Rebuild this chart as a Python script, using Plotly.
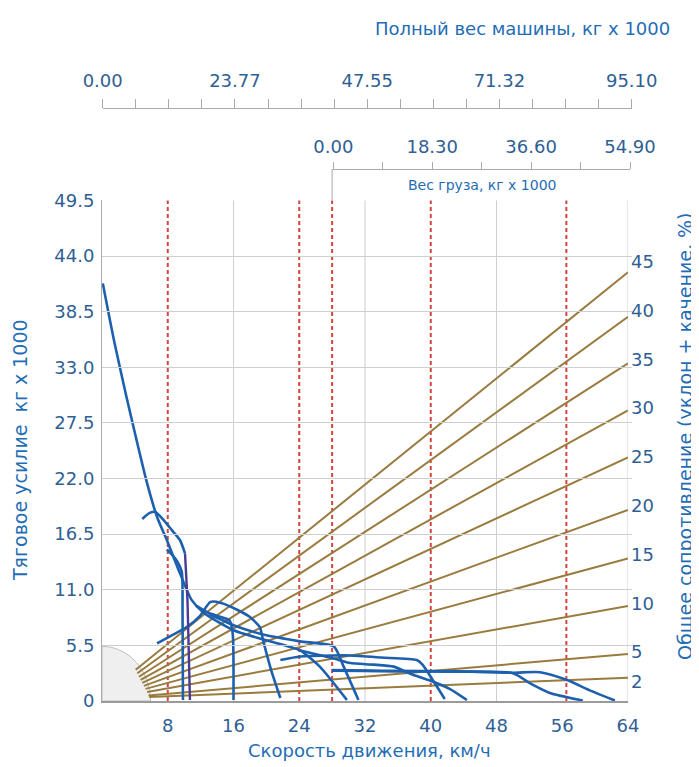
import plotly.graph_objects as go

# ---------------- data ----------------
speed_ticks = [8, 16, 24, 32, 40, 48, 56, 64]
force_ticks = [0, 5.5, 11.0, 16.5, 22.0, 27.5, 33.0, 38.5, 44.0, 49.5]
force_labels = ["0", "5.5", "11.0", "16.5", "22.0", "27.5", "33.0", "38.5", "44.0", "49.5"]
resist_ticks = [2, 5, 10, 15, 20, 25, 30, 35, 40, 45]
total_weight_ticks = [0, 5.94, 11.89, 17.83, 23.77, 29.72, 35.66, 41.61, 47.55,
                      53.49, 59.44, 65.38, 71.32, 77.27, 83.21, 89.16, 95.10]
total_weight_labels = ["0.00", "", "", "", "23.77", "", "", "", "47.55",
                       "", "", "", "71.32", "", "", "", "95.10"]
cargo_ticks = [0, 9.15, 18.30, 27.45, 36.60, 45.75, 54.90]
cargo_labels = ["0.00", "", "18.30", "", "36.60", "", "54.90"]
grid_speeds = [16, 32, 48, 64]
gear_limits = [8, 24, 28, 40, 56.5]

# resistance fan lines (start on arc, end at 64 km/h), in traction units
resist_start_x = [4.1, 4.3, 4.5, 4.7, 4.9, 5.1, 5.3, 5.5, 5.65, 5.75]
resist_start_y = [3.1, 2.75, 2.4, 2.1, 1.8, 1.5, 1.2, 0.9, 0.55, 0.4]
resist_end_y = [42.4, 38.0, 33.4, 28.75, 24.1, 18.9, 14.1, 9.4, 4.65, 2.3]

# rimpull curves
conv_x = [0.1, 1.5, 3.0, 4.5, 5.4, 6.7, 7.9, 9.5, 10.9, 12.4, 16.0, 20.0, 24.1, 26.5, 29.8]
conv_y = [41.3, 35.5, 30.0, 24.8, 21.8, 18.2, 15.9, 12.6, 10.0, 8.7, 7.0, 6.0, 5.0, 3.4, 0.1]
g1a_x = [7.9, 9.0, 9.7, 9.8, 9.85]
g1a_y = [15.0, 14.0, 12.8, 9.0, 0.1]
g1b_x = [4.9, 5.8, 6.5, 7.5, 8.5, 9.5, 10.1]
g1b_y = [18.0, 18.6, 18.7, 17.9, 16.9, 15.9, 14.6]
g1b_tail_x = [10.1, 10.4, 10.7]
g1b_tail_y = [14.6, 10.0, 0.1]
g2_x = [6.7, 8.5, 10.3, 11.9, 13.2, 14.5, 16.5, 18.0, 19.2, 19.6, 20.6, 21.7]
g2_y = [5.7, 6.5, 7.3, 8.4, 9.8, 9.7, 9.0, 8.3, 7.3, 6.0, 3.0, 0.3]
g3_x = [11.5, 13.0, 14.5, 15.5, 15.9, 16.0]
g3_y = [9.4, 8.7, 8.3, 8.0, 6.7, 0.1]
g4_x = [13.0, 16.0, 20.0, 24.1, 28.2, 29.4, 31.2]
g4_y = [8.6, 7.5, 6.5, 5.9, 5.4, 3.4, 0.1]
g5a_x = [21.7, 24.1, 28.2, 30.2, 34.0, 38.3, 39.0, 40.3, 41.7]
g5a_y = [4.05, 4.4, 4.5, 4.5, 4.3, 4.05, 3.6, 2.0, 0.2]
g5b_x = [24.1, 28.2, 30.2, 33.0, 35.5, 37.5, 40.3, 42.3, 44.4]
g5b_y = [5.0, 4.2, 3.75, 3.6, 3.4, 2.7, 1.9, 1.2, 0.1]
g6a_x = [28.0, 32.0, 36.0, 42.3, 50.0, 52.1, 54.5, 58.5]
g6a_y = [3.05, 3.0, 2.95, 2.9, 2.75, 1.75, 0.8, 0.05]
g6b_x = [28.0, 36.0, 42.3, 50.0, 53.3, 56.5, 59.5, 62.4]
g6b_y = [3.0, 2.95, 2.95, 2.8, 2.85, 2.1, 1.0, 0.05]

# ---------------- style ----------------
FONT = "DejaVu Sans"
TICK_C = "#2f5f94"
TITLE_C = "#1f6db5"
BLUE = "#1d60ae"
BROWN = "#9a7b3e"
GRID = "#cfcfcf"
OFF = 8  # page body margin
W, H = 699 - OFF, 767 - OFF
# target screen pixels of the plot box
SX0, SX1, SY0, SY1 = 102, 632, 10, 701
ML = SX0 - OFF
MR = W - (SX1 - OFF)
MT = SY0 - OFF
MB = H - (SY1 - OFF)
PW, PH = W - ML - MR, H - MT - MB


def px(xs):
    return (xs - SX0) / PW


def py(ys):
    return (SY1 - ys) / PH


fig = go.Figure()

# fan lines
for sx, sy, ey in zip(resist_start_x, resist_start_y, resist_end_y):
    fig.add_trace(go.Scatter(x=[sx, 64], y=[sy, ey], mode="lines",
                             line=dict(color=BROWN, width=2), hoverinfo="skip",
                             showlegend=False))

curves = [(conv_x, conv_y), (g1a_x, g1a_y), (g1b_x, g1b_y), (g2_x, g2_y),
          (g3_x, g3_y), (g4_x, g4_y), (g5a_x, g5a_y), (g5b_x, g5b_y),
          (g6a_x, g6a_y), (g6b_x, g6b_y)]
for cx, cy in curves:
    fig.add_trace(go.Scatter(x=cx, y=cy, mode="lines",
                             line=dict(color=BLUE, width=2.6, shape="spline", smoothing=0.6),
                             hoverinfo="skip", showlegend=False))
fig.add_trace(go.Scatter(x=g1b_tail_x, y=g1b_tail_y, mode="lines",
                         line=dict(color="#4a3c96", width=2.4), hoverinfo="skip",
                         showlegend=False))

# dummy traces so the auxiliary axes exist
fig.add_trace(go.Scatter(x=[0], y=[0], xaxis="x2", yaxis="y", mode="markers",
                         marker=dict(opacity=0), hoverinfo="skip", showlegend=False))
fig.add_trace(go.Scatter(x=[0], y=[0], xaxis="x3", yaxis="y", mode="markers",
                         marker=dict(opacity=0), hoverinfo="skip", showlegend=False))
fig.add_trace(go.Scatter(x=[0], y=[0], xaxis="x", yaxis="y2", mode="markers",
                         marker=dict(opacity=0), hoverinfo="skip", showlegend=False))

shapes = []
for g in grid_speeds:
    shapes.append(dict(type="line", xref="x", yref="y", x0=g, x1=g, y0=0, y1=49.5,
                       line=dict(color=GRID, width=1), layer="below"))
for g in gear_limits:
    shapes.append(dict(type="line", xref="x", yref="y", x0=g, x1=g, y0=0, y1=49.5,
                       line=dict(color="#d4443f", width=2, dash="4px,3px"), layer="between"))
# quarter arc (rest zone)
rx, ry, k = 5.9, 5.4, 0.5523
shapes.append(dict(type="path", xref="x", yref="y",
                   path=f"M 0 {ry} C {k*rx} {ry} {rx} {k*ry} {rx} 0 L 0 0 Z",
                   fillcolor="#efefef", line=dict(color="#bdbdbd", width=1), layer="between"))
# connector from cargo axis to plot
shapes.append(dict(type="line", xref="x", yref="paper", x0=28, x1=28,
                   y0=py(200), y1=py(169), line=dict(color="#aaaaaa", width=1)))

tickfont = dict(family=FONT, size=18, color=TICK_C)

fig.update_layout(
    width=W, height=H, autosize=False,
    margin=dict(l=ML, r=MR, t=MT, b=MB, pad=0),
    paper_bgcolor="white", plot_bgcolor="rgba(0,0,0,0)",
    font=dict(family=FONT, color=TICK_C),
    shapes=shapes,
    xaxis=dict(domain=[0, px(628)], range=[0, 64], tickvals=speed_ticks,
               showgrid=False, zeroline=False, showline=True, linecolor="#9a9a9a",
               linewidth=1.5, ticks="", tickfont=tickfont, ticklabelstandoff=8,
               automargin=False, fixedrange=True),
    yaxis=dict(domain=[0, py(200)], range=[0, 49.55], tickvals=force_ticks,
               ticktext=force_labels, showgrid=True, gridcolor=GRID, zeroline=False,
               showline=True, linecolor="#aaaaaa", ticks="", tickfont=tickfont,
               ticklabelstandoff=3, automargin=False, fixedrange=True),
    yaxis2=dict(overlaying="y", side="right", anchor="x", range=[0, 51.3],
                tickvals=resist_ticks, showgrid=False, zeroline=False, showline=False,
                ticks="", tickfont=tickfont, ticklabelstandoff=2, automargin=False,
                fixedrange=True),
    xaxis2=dict(domain=[px(102.7), px(631.7)], anchor="free", position=py(107.7),
                side="top", range=[0, 95.10], tickvals=total_weight_ticks,
                ticktext=total_weight_labels, ticks="outside", ticklen=9,
                tickcolor="#aaaaaa", showline=True, linecolor="#aaaaaa",
                showgrid=False, zeroline=False, tickfont=tickfont,
                ticklabelstandoff=5, automargin=False, fixedrange=True),
    xaxis3=dict(domain=[px(333.3), px(630)], anchor="free", position=py(169),
                side="top", range=[0, 54.90], tickvals=cargo_ticks,
                ticktext=cargo_labels, ticks="outside", ticklen=7,
                tickcolor="#aaaaaa", showline=True, linecolor="#aaaaaa",
                showgrid=False, zeroline=False, tickfont=tickfont,
                ticklabelstandoff=2, automargin=False, fixedrange=True),
    annotations=[
        dict(text="Полный вес машины, кг х 1000", xref="paper", yref="paper",
             x=px(672), y=py(28), xanchor="right", yanchor="middle", showarrow=False,
             font=dict(family=FONT, size=18, color=TITLE_C)),
        dict(text="Вес груза, кг х 1000", xref="paper", yref="paper",
             x=px(481.7), y=py(185), xanchor="center", yanchor="middle", showarrow=False,
             font=dict(family=FONT, size=14, color=TITLE_C)),
        dict(text="Тяговое усилие  кг х 1000", xref="paper", yref="paper",
             x=px(20), y=py(450), xanchor="center", yanchor="middle", showarrow=False,
             textangle=-90, font=dict(family=FONT, size=19, color=TITLE_C)),
        dict(text="Общее сопротивление (уклон + качение, %)", xref="paper", yref="paper",
             x=px(685), y=py(437), xanchor="center", yanchor="middle", showarrow=False,
             textangle=-90, font=dict(family=FONT, size=19, color=TITLE_C)),
        dict(text="Скорость движения, км/ч", xref="paper", yref="paper",
             x=px(369), y=py(750), xanchor="center", yanchor="middle", showarrow=False,
             font=dict(family=FONT, size=18, color=TITLE_C)),
    ],
)

fig.write_html("out.html")
